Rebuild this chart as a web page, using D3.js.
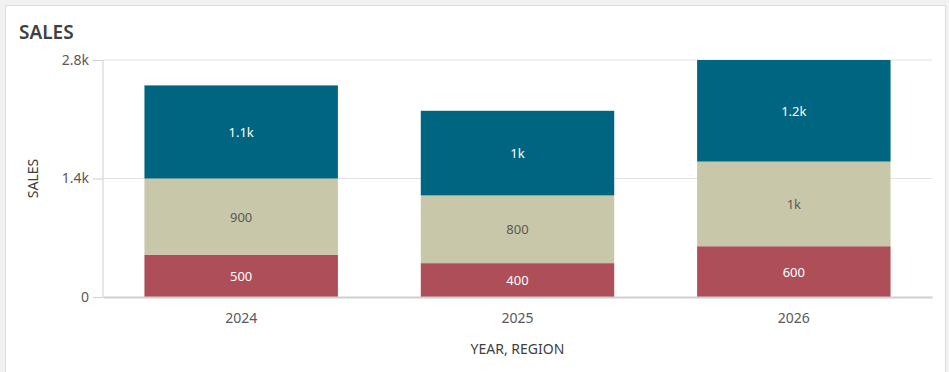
<!DOCTYPE html>
<html>
<head>
<meta charset="utf-8">
<script src="https://cdn.jsdelivr.net/npm/d3@7"></script>
<style>
    body { margin: 0; background: #f2f2f2; font-family: "Source Sans Pro", "Noto Sans", sans-serif; }
    .card { position: absolute; left: 5px; top: 5px; width: 939px; height: 380px; background: #fff; border: 1px solid #dedede; }
    svg { position: absolute; left: 0; top: 0; font-family: "Noto Sans", sans-serif; }
    .grid line { stroke: #e3e3e3; }
    .axis path, .axis line { stroke: #cfcfcf; }
    .axis text { fill: #595959; font-size: 14px; font-family: "Noto Sans", sans-serif; }
</style>
</head>
<body>
<div class="card"></div>
<script>
var years = ['2024', '2025', '2026'];
var regions = ['south', 'middle', 'north'];
var south = [500, 400, 600];
var middle = [900, 800, 1000];
var north = [1100, 1000, 1200];
var yTicks = [0, 1400, 2800];
var colors = ['#ad4e58', '#c8c7a9', '#006580'];
var labelColors = ['#ffffff', '#595959', '#ffffff'];

var rows = years.map(function (year, i) {
    return { year: year, south: south[i], middle: middle[i], north: north[i] };
});

var width = 949, height = 372;
var margin = { top: 60, right: 17, bottom: 75, left: 103 };

var svg = d3.select('body').append('svg')
    .attr('width', width)
    .attr('height', height);

svg.append('text')
    .attr('x', 19)
    .attr('y', 39)
    .attr('fill', '#404040')
    .attr('font-size', '19px')
    .attr('font-weight', 600)
    .text('SALES');

var x = d3.scaleBand()
    .domain(years)
    .range([margin.left, width - margin.right])
    .paddingInner(0.3)
    .paddingOuter(0.15);

var y = d3.scaleLinear()
    .domain([0, 2800])
    .range([height - margin.bottom, margin.top]);

// gridlines
svg.append('g')
    .attr('class', 'grid')
    .selectAll('line')
    .data(yTicks.slice(1))
    .enter().append('line')
    .attr('x1', margin.left)
    .attr('x2', width - margin.right)
    .attr('y1', d => y(d))
    .attr('y2', d => y(d));

var yAxis = svg.append('g')
    .attr('class', 'axis')
    .attr('transform', 'translate(' + margin.left + ',0)')
    .call(d3.axisLeft(y).tickValues(yTicks).tickSize(10).tickPadding(4)
        .tickFormat(d => d === 0 ? '0' : d3.format('.2~s')(d)));
yAxis.select('.domain').attr('d', 'M0,' + y(2800) + 'V' + y(0));

var stack = d3.stack().keys(regions);
var series = stack(rows);

var layers = svg.append('g')
    .selectAll('g')
    .data(series)
    .enter().append('g')
    .attr('fill', (d, i) => colors[i]);

layers.selectAll('rect')
    .data(d => d)
    .enter().append('rect')
    .attr('x', d => x(d.data.year))
    .attr('width', x.bandwidth())
    .attr('y', d => y(d[1]))
    .attr('height', d => y(d[0]) - y(d[1]));

function fmt(v) {
    return v >= 1000 ? d3.format('.2~s')(v) : String(v);
}

layers.selectAll('text')
    .data(function (d, i) { return d.map(p => ({ p: p, i: i })); })
    .enter().append('text')
    .attr('x', d => x(d.p.data.year) + x.bandwidth() / 2)
    .attr('y', d => (y(d.p[0]) + y(d.p[1])) / 2 + 5)
    .attr('text-anchor', 'middle')
    .attr('font-size', '13px')
    .attr('fill', d => labelColors[d.i])
    .text(d => fmt(d.p[1] - d.p[0]));

var xAxis = svg.append('g')
    .attr('class', 'axis')
    .attr('transform', 'translate(0,' + y(0) + ')')
    .call(d3.axisBottom(x).tickSize(0).tickPadding(16));
xAxis.select('.domain').attr('stroke-width', 2);

svg.append('text')
    .attr('x', (margin.left + width - margin.right) / 2)
    .attr('y', 354)
    .attr('text-anchor', 'middle')
    .attr('fill', '#404040')
    .attr('font-size', '14px')
    .text('YEAR, REGION');

svg.append('text')
    .attr('transform', 'translate(38,' + ((y(0) + y(2800)) / 2) + ') rotate(-90)')
    .attr('text-anchor', 'middle')
    .attr('fill', '#404040')
    .attr('font-size', '14px')
    .text('SALES');
</script>
</body>
</html>
